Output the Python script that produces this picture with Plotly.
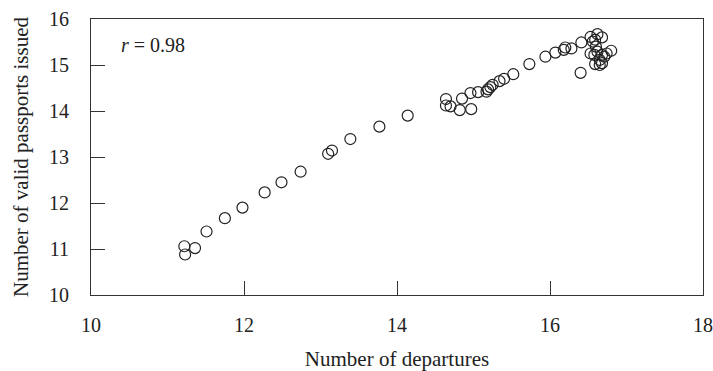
import plotly.graph_objects as go

departures = [11.22, 11.23, 11.36, 11.51, 11.75, 11.98, 12.27, 12.49, 12.74, 13.10,
              13.15, 13.39, 13.77, 14.14, 14.64, 14.64, 14.70, 14.82, 14.85, 14.96,
              14.97, 15.06, 15.17, 15.19, 15.22, 15.25, 15.34, 15.40, 15.52, 15.73,
              15.94, 16.07, 16.18, 16.20, 16.28, 16.41, 16.40, 16.53, 16.56, 16.62,
              16.59, 16.68, 16.53, 16.58, 16.62, 16.59, 16.65, 16.65, 16.68, 16.71,
              16.74, 16.80, 16.68, 16.60]
passports = [11.06, 10.88, 11.02, 11.38, 11.67, 11.90, 12.23, 12.45, 12.68, 13.07,
             13.14, 13.39, 13.66, 13.90, 14.26, 14.12, 14.10, 14.02, 14.27, 14.39,
             14.04, 14.41, 14.42, 14.47, 14.52, 14.57, 14.65, 14.70, 14.80, 15.02,
             15.18, 15.27, 15.33, 15.38, 15.36, 15.49, 14.83, 15.61, 15.51, 15.67,
             15.55, 15.60, 15.25, 15.22, 15.29, 15.02, 15.11, 15.00, 15.22, 15.18,
             15.25, 15.31, 15.04, 15.40]
x_ticks = [10, 12, 14, 16, 18]
y_ticks = [10, 11, 12, 13, 14, 15, 16]
r_label = "<i>r</i> = 0.98"

FONT = "Liberation Serif"
AX = "#333333"

fig = go.Figure(go.Scatter(
    x=departures, y=passports, mode="markers",
    marker=dict(symbol="circle-open", size=11, color="#222222", line=dict(width=1.2)),
    showlegend=False, hoverinfo="skip"))

fig.add_annotation(x=0.045, y=0.905, xref="paper", yref="paper", text=r_label,
                   showarrow=False, xanchor="left", yanchor="middle",
                   font=dict(family=FONT, size=20, color="#222222"))

axis_common = dict(showgrid=False, zeroline=False, showline=True, linecolor=AX,
                   linewidth=1, mirror=True, ticks="inside", ticklen=14,
                   tickcolor=AX, tickwidth=1, automargin=False,
                   tickfont=dict(family=FONT, size=20, color="#222222"))

fig.update_xaxes(range=[10, 18], tickvals=x_ticks, ticklabelstandoff=12,
                 title=dict(text="Number of departures", standoff=23,
                            font=dict(family=FONT, size=21, color="#222222")),
                 **axis_common)
fig.update_yaxes(range=[10, 16], tickvals=y_ticks, ticklabelstandoff=17,
                 title=dict(text="Number of valid passports issued", standoff=14,
                            font=dict(family=FONT, size=21, color="#222222")),
                 **axis_common)

fig.update_layout(width=713, height=371, plot_bgcolor="white", paper_bgcolor="white",
                  margin=dict(l=91, r=10, t=19, b=76),
                  font=dict(family=FONT, color="#222222"))

fig.write_html("out.html", config={"displayModeBar": False},
               post_script="document.body.style.margin='0';document.body.style.overflow='hidden';")
